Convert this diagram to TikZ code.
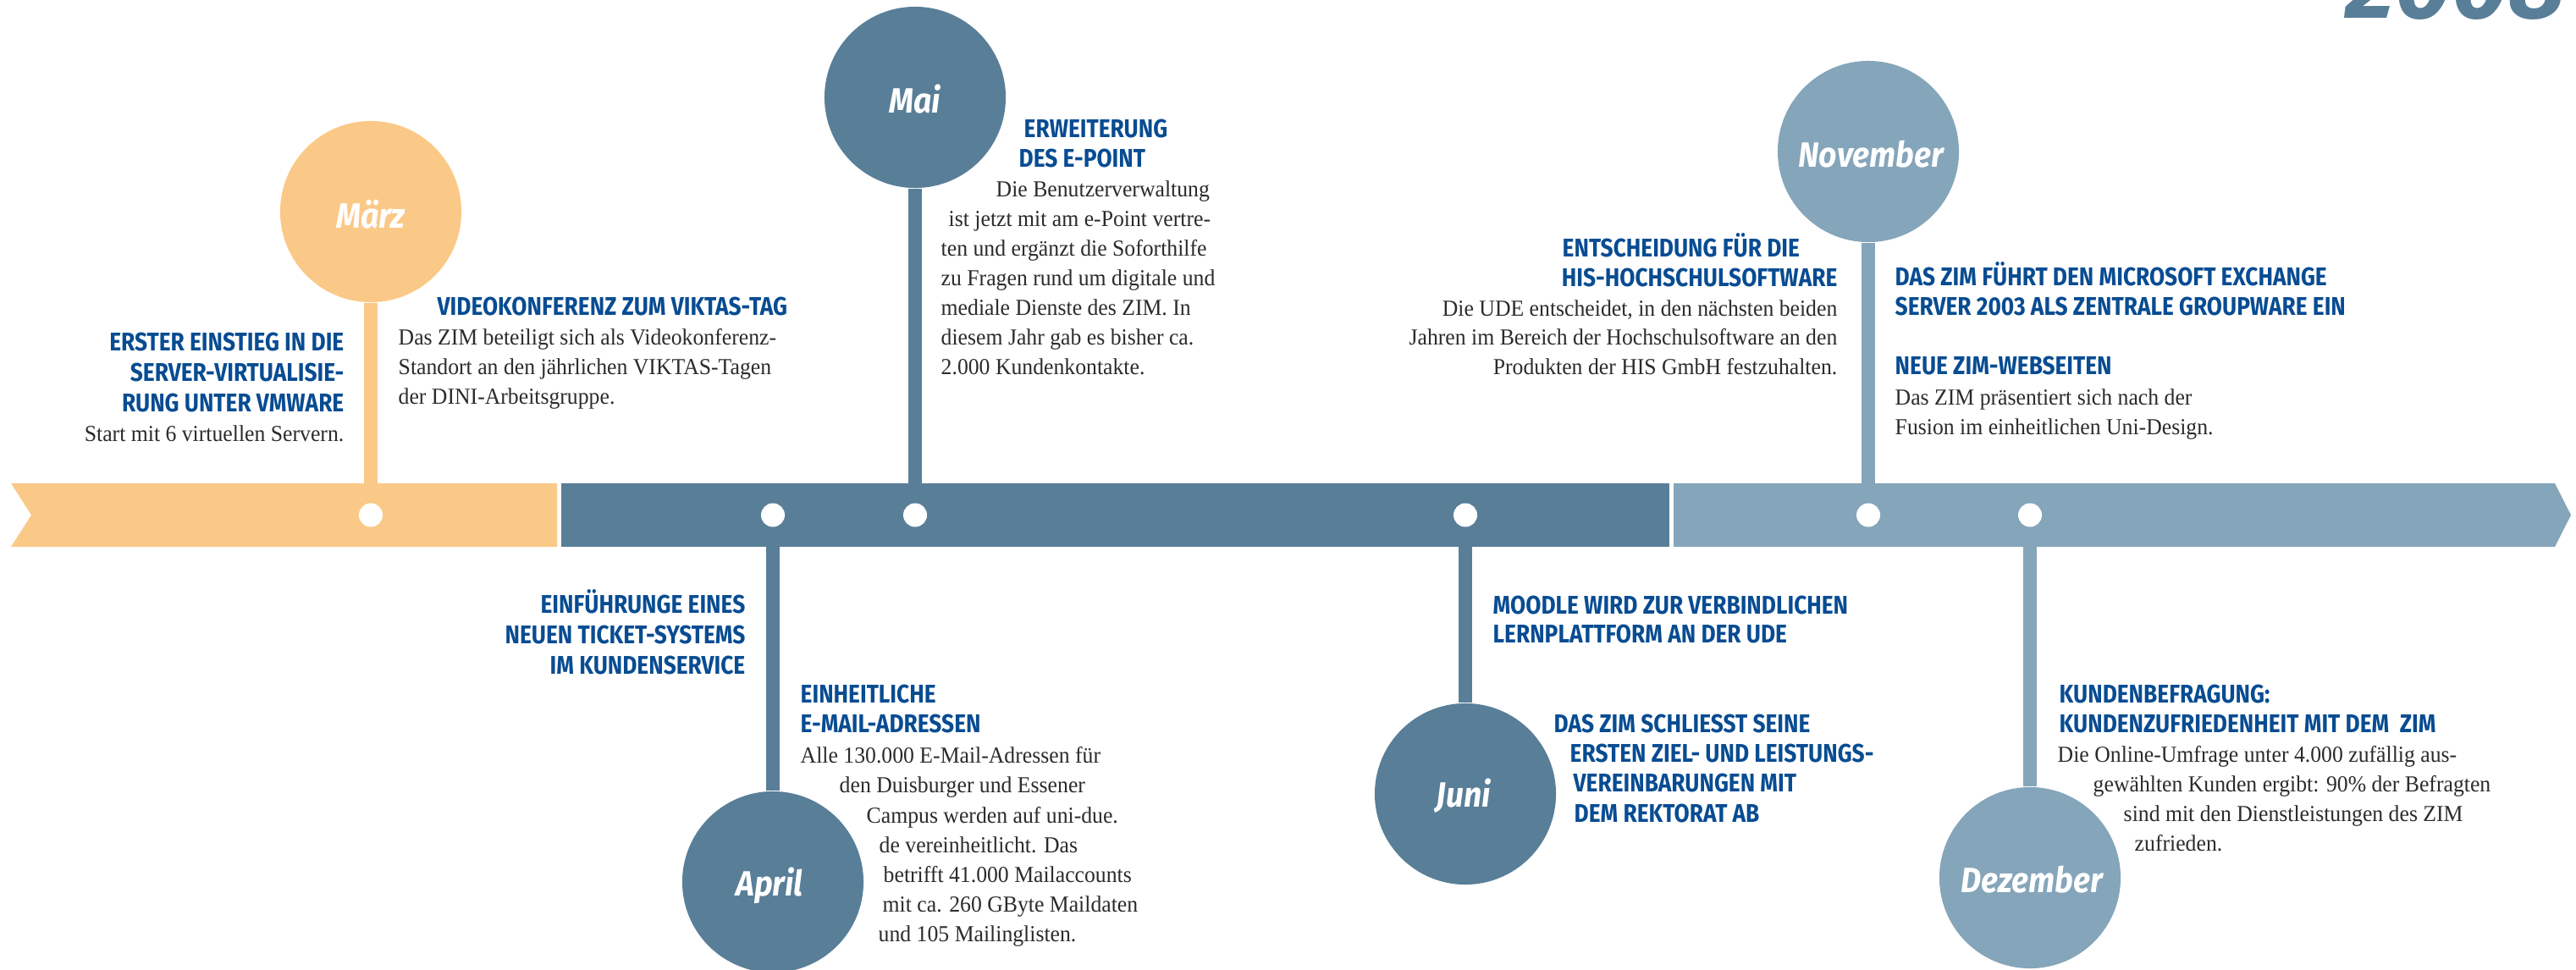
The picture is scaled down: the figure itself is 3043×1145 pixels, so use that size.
\documentclass[tikz,border=0pt]{standalone}
\usepackage{fontspec}
\setmainfont{Liberation Serif}
\newfontfamily\hdfam[FakeStretch=0.87]{Fira Sans}
\newfontfamily\bdfam[FakeStretch=0.95]{Liberation Serif}
\newfontfamily\mofam[FakeStretch=0.9]{Fira Sans}
\newfontfamily\yrfam{Fira Sans}
\definecolor{orangeC}{HTML}{FBC987}
\definecolor{darkC}{HTML}{597E98}
\definecolor{lightC}{HTML}{85A5BA}
\definecolor{headC}{HTML}{084C92}
\definecolor{bodyC}{HTML}{2B2B2B}
\tikzset{
  hd/.style={font=\hdfam\bfseries\fontsize{8.6}{10}\selectfont, text=headC, inner sep=0pt},
  bd/.style={font=\bdfam\fontsize{7.7}{10}\selectfont, text=bodyC, inner sep=0pt},
  month/.style={circle, minimum size=2.14cm, inner sep=0pt},
  mlabel/.style={font=\mofam\bfseries\itshape\fontsize{11.8}{14}\selectfont, text=white, inner sep=0pt, anchor=base},
  dot/.style={circle, fill=white, minimum size=0.28cm, inner sep=0pt},
  stem/.style={line width=1.6mm},
}
\begin{document}
\begin{tikzpicture}[x=0.01cm, y=-0.01cm]
\clip (0,0) rectangle (3043,1145);
\fill[white] (0,0) rectangle (3043,1145);

% positions of the markers on the band
\coordinate (pMar) at (438,608.5);
\coordinate (pApr) at (913,608.5);
\coordinate (pMai) at (1081,608.5);
\coordinate (pJun) at (1731,608.5);
\coordinate (pNov) at (2207,608.5);
\coordinate (pDez) at (2398,608.5);

% month circles
\node[month, fill=orangeC] (mar) at (438,250) {};
\node[month, fill=darkC]   (mai) at (1081,115) {};
\node[month, fill=lightC]  (nov) at (2207,179) {};
\node[month, fill=darkC]   (apr) at (913,1042) {};
\node[month, fill=darkC]   (jun) at (1731,938) {};
\node[month, fill=lightC]  (dez) at (2398,1037) {};

% stems
\draw[stem, orangeC] (mar.south) -- (pMar);
\draw[stem, darkC]   (mai.south) -- (pMai);
\draw[stem, lightC]  (nov.south) -- (pNov);
\draw[stem, darkC]   (apr.north) -- (pApr);
\draw[stem, darkC]   (jun.north) -- (pJun);
\draw[stem, lightC]  (dez.north) -- (pDez);

% the time band
\fill[orangeC] (13,571) -- (658,571) -- (658,646) -- (13,646) -- (37,608.5) -- cycle;
\fill[darkC] (663,571) rectangle (1972,646);
\fill[lightC] (1977,571) -- (3018,571) -- (3037,608.5) -- (3018,646) -- (1977,646) -- cycle;

% markers
\node[dot] (dMar) at (pMar) {};
\node[dot] (dApr) at (pApr) {};
\node[dot] (dMai) at (pMai) {};
\node[dot] (dJun) at (pJun) {};
\node[dot] (dNov) at (pNov) {};
\node[dot] (dDez) at (pDez) {};

% month names
\node[mlabel] (lMar) at (438,269) {März};
\node[mlabel] (lMai) at (1081,133) {Mai};
\node[mlabel] (lNov) at (2210,197) {November};
\node[mlabel] (lApr) at (909,1058) {April};
\node[mlabel] (lJun) at (1729,953) {Juni};
\node[mlabel] (lDez) at (2400,1054) {Dezember};

% year
\node[font=\yrfam\bfseries\itshape\fontsize{33}{40}\selectfont, text=darkC, anchor=base west, inner sep=0pt] (year) at (2770,21) {2008};

% --- März
\foreach \x/\y/\txt [count=\idx] in {407/414/{ERSTER EINSTIEG IN DIE}, 407/450/{SERVER-VIRTUALISIE-}, 407/486/{RUNG UNTER VMWARE}}
  \node[hd, anchor=base east] (vmh-\idx) at (\x,\y) {\txt};
\node[bd, anchor=base east] (vmb-1) at (407,521) {Start mit 6 virtuellen Servern.};

\node[hd, anchor=base west] (vkh-1) at (516,372) {VIDEOKONFERENZ ZUM VIKTAS-TAG};
\foreach \x/\y/\txt [count=\idx] in {470/407/{Das ZIM beteiligt sich als Videokonferenz-}, 470/442/{Standort an den jährlichen VIKTAS-Tagen}, 470/477/{der DINI-Arbeitsgruppe.}}
  \node[bd, anchor=base west] (vkb-\idx) at (\x,\y) {\txt};

% --- Mai
\foreach \x/\y/\txt [count=\idx] in {1209/162/{ERWEITERUNG}, 1203/197/{DES E-POINT}}
  \node[hd, anchor=base west] (eph-\idx) at (\x,\y) {\txt};
\foreach \x/\y/\txt [count=\idx] in {1176/232/{Die Benutzerverwaltung}, 1120/267/{ist jetzt mit am e-Point vertre-}, 1111/302/{ten und ergänzt die Soforthilfe}, 1111/337/{zu Fragen rund um digitale und}, 1111/372/{mediale Dienste des ZIM. In}, 1111/407/{diesem Jahr gab es bisher ca.}, 1111/442/{2.000 Kundenkontakte.}}
  \node[bd, anchor=base west] (epb-\idx) at (\x,\y) {\txt};

% --- April
\foreach \x/\y/\txt [count=\idx] in {881/724/{EINFÜHRUNGE EINES}, 881/760/{NEUEN TICKET-SYSTEMS}, 881/796/{IM KUNDENSERVICE}}
  \node[hd, anchor=base east] (tkh-\idx) at (\x,\y) {\txt};
\foreach \x/\y/\txt [count=\idx] in {945/830/{EINHEITLICHE}, 945/865/{E-MAIL-ADRESSEN}}
  \node[hd, anchor=base west] (emh-\idx) at (\x,\y) {\txt};
\foreach \x/\y/\txt [count=\idx] in {945/901/{Alle 130.000 E-Mail-Adressen für}, 991/936/{den Duisburger und Essener}, 1023/972/{Campus werden auf uni-due.}, 1038/1007/{de vereinheitlicht. Das}, 1043/1042/{betrifft 41.000 Mailaccounts}, 1042/1077/{mit ca. 260 GByte Maildaten}, 1037/1112/{und 105 Mailinglisten.}}
  \node[bd, anchor=base west] (emb-\idx) at (\x,\y) {\txt};

% --- Juni
\foreach \x/\y/\txt [count=\idx] in {1763/725/{MOODLE WIRD ZUR VERBINDLICHEN}, 1763/759/{LERNPLATTFORM AN DER UDE}}
  \node[hd, anchor=base west] (moh-\idx) at (\x,\y) {\txt};
\foreach \x/\y/\txt [count=\idx] in {1835/865/{DAS ZIM SCHLIESST SEINE}, 1854/900/{ERSTEN ZIEL- UND LEISTUNGS-}, 1858/935/{VEREINBARUNGEN MIT}, 1859/971/{DEM REKTORAT AB}}
  \node[hd, anchor=base west] (zvh-\idx) at (\x,\y) {\txt};

% --- November
\node[hd, anchor=base west] (hish-1) at (1845,303) {ENTSCHEIDUNG FÜR DIE};
\node[hd, anchor=base east] (hish-2) at (2171,338) {HIS-HOCHSCHULSOFTWARE};
\foreach \x/\y/\txt [count=\idx] in {2171/373/{Die UDE entscheidet, in den nächsten beiden}, 2171/407/{Jahren im Bereich der Hochschulsoftware an den}, 2171/442/{Produkten der HIS GmbH festzuhalten.}}
  \node[bd, anchor=base east] (hisb-\idx) at (\x,\y) {\txt};

\foreach \x/\y/\txt [count=\idx] in {2238/337/{DAS ZIM FÜHRT DEN MICROSOFT EXCHANGE}, 2238/372/{SERVER 2003 ALS ZENTRALE GROUPWARE EIN}, 2238/442/{NEUE ZIM-WEBSEITEN}}
  \node[hd, anchor=base west] (exh-\idx) at (\x,\y) {\txt};
\foreach \x/\y/\txt [count=\idx] in {2238/478/{Das ZIM präsentiert sich nach der}, 2238/513/{Fusion im einheitlichen Uni-Design.}}
  \node[bd, anchor=base west] (exb-\idx) at (\x,\y) {\txt};

% --- Dezember
\foreach \x/\y/\txt [count=\idx] in {2432/830/{KUNDENBEFRAGUNG:}, 2432/865/{KUNDENZUFRIEDENHEIT MIT DEM\ \ ZIM}}
  \node[hd, anchor=base west] (kbh-\idx) at (\x,\y) {\txt};
\foreach \x/\y/\txt [count=\idx] in {2430/900/{Die Online-Umfrage unter 4.000 zufällig aus-}, 2472/935/{gewählten Kunden ergibt: 90\% der Befragten}, 2508/970/{sind mit den Dienstleistungen des ZIM}, 2521/1005/{zufrieden.}}
  \node[bd, anchor=base west] (kbb-\idx) at (\x,\y) {\txt};
\end{tikzpicture}
\end{document}
